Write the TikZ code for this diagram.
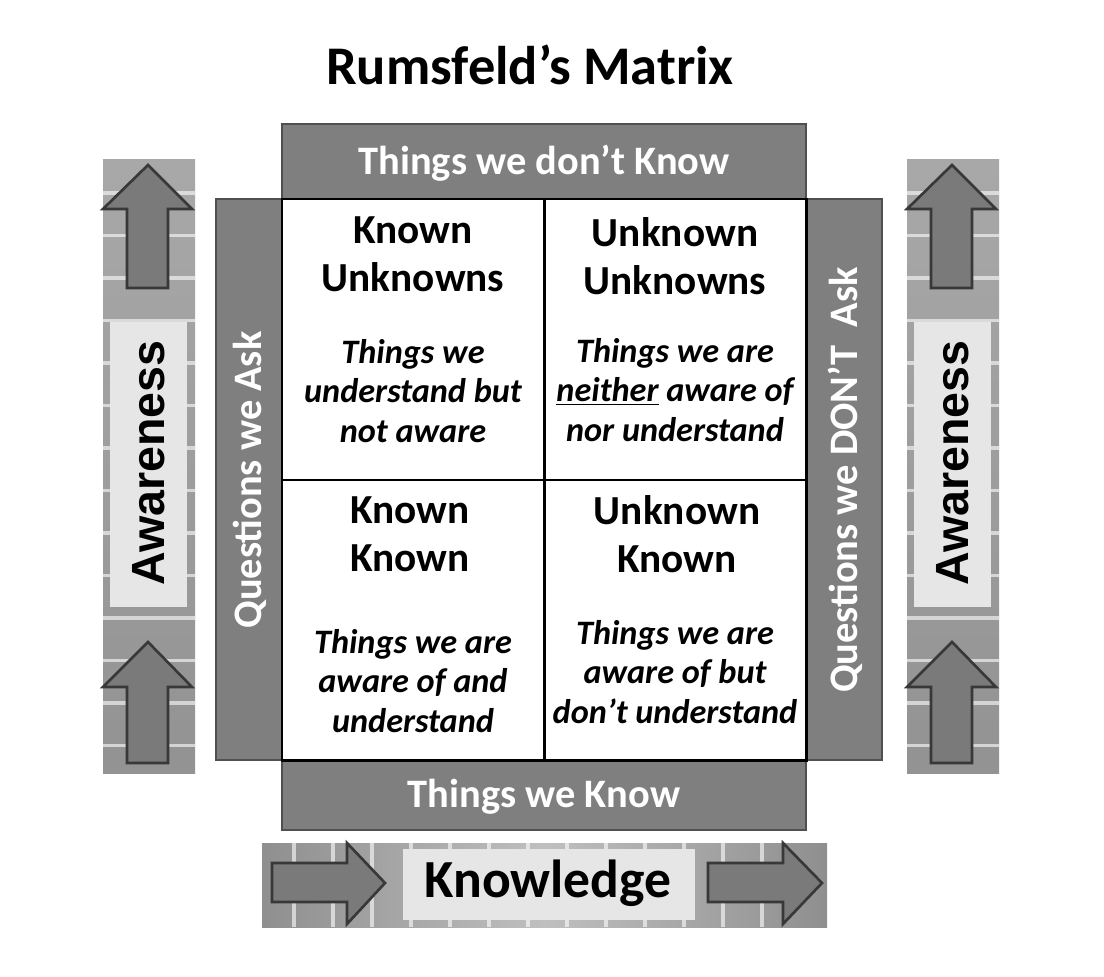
\documentclass[tikz,border=0pt]{standalone}
\usepackage{fontspec}
\setmainfont{Carlito}
\newfontfamily\awfont{Liberation Sans}
\usetikzlibrary{positioning}
\definecolor{barGray}{HTML}{7F7F7F}
\definecolor{barEdge}{HTML}{505050}
\definecolor{arrowFill}{HTML}{7A7A7A}
\definecolor{arrowEdge}{HTML}{383838}
\definecolor{boxLight}{HTML}{E6E6E6}
\tikzset{
  bar/.style={fill=barGray,draw=barEdge,line width=1pt},
  bartext/.style={text=white,font=\fontsize{23}{27}\selectfont\bfseries},
  cellhead/.style={align=center,font=\fontsize{23.5}{27.5}\selectfont\bfseries},
  celltext/.style={align=center,font=\fontsize{19.5}{22.3}\selectfont\bfseries\itshape},
  fatarrow/.style={fill=arrowFill,draw=arrowEdge,line width=1.5pt,line join=miter},
  lightbox/.style={fill=boxLight,draw=none},
  seam/.style={white,line width=2.2pt,opacity=0.6}
}
\begin{document}
\begin{tikzpicture}[x=0.02cm,y=-0.02cm]
\useasboundingbox[fill=white] (0,0) rectangle (1104,976);

\node[font=\fontsize{31}{35}\selectfont\bfseries] (title) at (530,65) {Rumsfeld’s Matrix};

% awareness bars
\foreach \bx in {103,907} {
  \shade[top color=gray!68,bottom color=gray!85] (\bx,160) rectangle ++(92,613);
  \foreach \sy in {193,235.5,...,747} \draw[seam] (\bx,\sy) -- ++(92,0);
  \fill[lightbox] (\bx+7,322) rectangle (\bx+84,607);
  \node[font=\awfont\fontsize{26.5}{30}\selectfont\bfseries,rotate=90] (aw\bx) at (\bx+46,463) {Awareness};
  \draw[fatarrow] (\bx+24,288) -- (\bx+24,209) -- (\bx,209) -- (\bx+45,165)
    -- (\bx+89,209) -- (\bx+65,209) -- (\bx+65,288) -- cycle;
  \draw[fatarrow] (\bx+24,763) -- (\bx+24,687) -- (\bx,687) -- (\bx+45,642)
    -- (\bx+89,687) -- (\bx+65,687) -- (\bx+65,763) -- cycle;
}

% knowledge bar
\shade[left color=gray!88,right color=gray!88,middle color=gray!50] (262,843) rectangle (827,927);
\foreach \sx in {294,333,...,800} \draw[seam] (\sx,843) -- (\sx,927);
\fill[lightbox] (403,849) rectangle (695,920);
\node[font=\fontsize{30.5}{34}\selectfont\bfseries] (knowledge) at (548,883) {Knowledge};
\draw[fatarrow] (272,863) -- (347,863) -- (347,843) -- (385,883) -- (347,924) -- (347,902) -- (272,902) -- cycle;
\draw[fatarrow] (708,863) -- (783,863) -- (783,843) -- (822,883) -- (783,924) -- (783,902) -- (708,902) -- cycle;

% frame bars
\draw[bar] (282,124) rectangle (806,199);
\node[bartext] (dontknow) at (544,163) {Things we don’t Know};
\draw[bar] (216,199) rectangle (282,760);
\node[bartext,rotate=90] (ask) at (250,480) {Questions we Ask};
\draw[bar] (806,199) rectangle (882,760);
\node[bartext,rotate=90] (dontask) at (845,480) {Questions we DON’T\ \ Ask};
\draw[bar] (282,760) rectangle (806,830);
\node[bartext] (know) at (544,797) {Things we Know};

% matrix
\draw[line width=1.7pt,fill=white] (282,199) rectangle (806,760);
\draw[line width=1.7pt] (544,199) -- (544,760) (282,480) -- (806,480);

\node[cellhead] (kuHead) at (413,254) {Known\\Unknowns};
\node[celltext] (kuText) at (413,391) {Things we\\understand but\\not aware};
\node[cellhead] (uuHead) at (675,256) {Unknown\\Unknowns};
\node[celltext] (uuText) at (675,390) {Things we are\\\underline{neither} aware of\\nor understand};
\node[cellhead] (kkHead) at (410,534) {Known\\Known};
\node[celltext] (kkText) at (413,681) {Things we are\\aware of and\\understand};
\node[cellhead] (ukHead) at (677,534) {Unknown\\Known};
\node[celltext] (ukText) at (675,672) {Things we are\\aware of but\\don’t understand};
\end{tikzpicture}
\end{document}
